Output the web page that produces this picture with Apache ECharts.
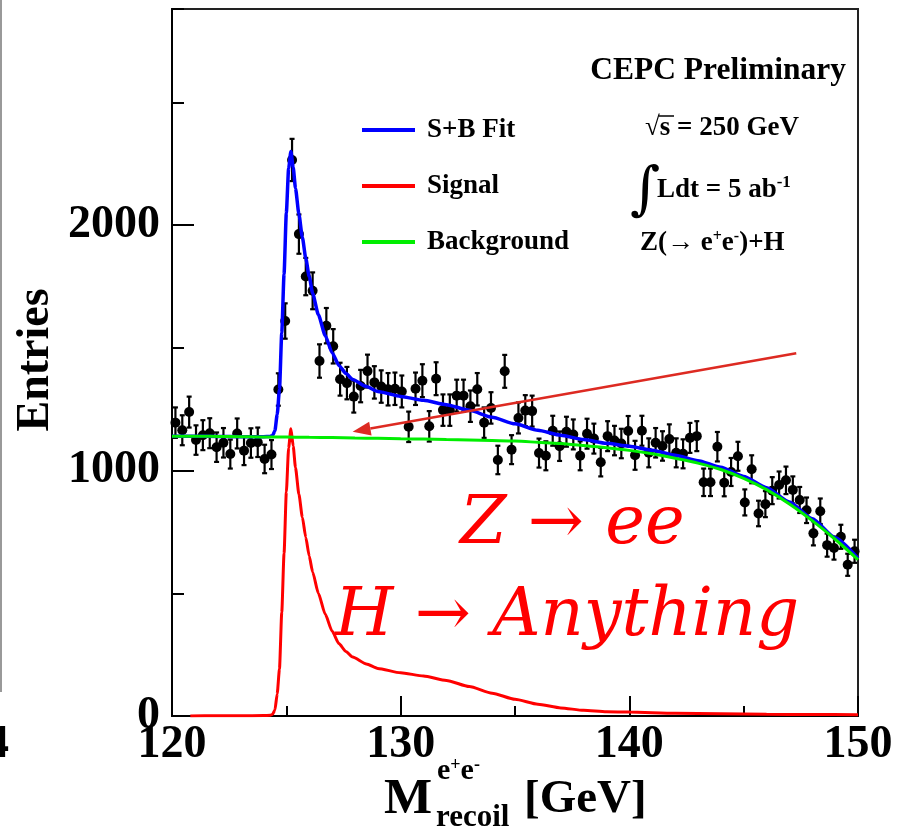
<!DOCTYPE html>
<html>
<head>
<meta charset="utf-8">
<script src="https://cdn.jsdelivr.net/npm/echarts@6/dist/echarts.min.js"></script>
<style>html,body{margin:0;padding:0;background:#fff}#c{width:909px;height:836px}</style>
</head>
<body>
<div id="c"></div>
<script>
// ---- data ----
const binStart = 120, binWidth = 0.3;
const entries = [1195,1164,1238,1124,1144,1152,1095,1113,1067,1151,1081,1112,1115,1047,1065,1330,1609,2265,1963,1790,
  1732,1446,1590,1506,1372,1356,1301,1344,1405,1359,1342,1331,1333,1322,1178,1333,1366,1180,1374,1246,
  1246,1305,1305,1262,1331,1195,1255,1043,1404,1085,1214,1244,1242,1071,1060,1162,1099,1158,1147,1060,
  1150,1130,1034,1140,1122,1110,1161,1062,1162,1072,1113,1100,1128,1072,1068,1133,1140,952,952,1097,
  950,994,1058,870,1005,825,863,918,941,960,921,880,838,744,834,696,684,730,616,671];
const errors = [62,61,63,60,61,61,60,60,59,61,59,60,60,58,59,66,72,86,80,76,
  75,68,72,70,67,66,65,66,67,66,66,66,66,65,62,66,67,62,67,64,
  64,65,65,64,66,62,64,58,67,59,63,63,63,59,59,61,60,61,61,59,
  61,61,58,61,60,60,61,59,61,59,60,60,60,59,59,61,61,56,56,60,
  55,57,59,53,57,52,53,55,55,56,55,53,52,49,52,47,47,49,45,47];
const massBins = entries.map((_, i) => +(binStart + binWidth * (i + 0.5)).toFixed(2));

const fitMass    = [120,121,122,123,124,124.3,124.4,124.5,124.6,124.7,124.8,124.9,125.0,125.1,125.2,125.3,125.4,125.55,125.7,125.85,126.0,126.15,126.4,126.7,127.0,127.3,127.6,127.9,128.5,129,130,131,132,133,134,135,136,137,138,139,140,141,142,143,144,145,146,147,148,149,150];
const fitEntries = [1140,1140,1139,1138,1138,1139,1143,1162,1228,1330,1560,1800,2050,2230,2300,2235,2150,2045,1950,1865,1790,1722,1635,1550,1480,1428,1396,1371,1342,1322,1302,1286,1268,1245,1217,1190,1164,1144,1126,1111,1099,1083,1062,1040,1013,976,930,872,803,726,642];

const sigMass    = [120.8,122,123,124,124.3,124.4,124.5,124.6,124.7,124.8,124.9,125.0,125.1,125.2,125.3,125.4,125.55,125.7,125.85,126.0,126.15,126.4,126.7,127.0,127.3,127.6,127.9,128.5,129,130,131,132,133,134,135,136,137,138,139,140,142,144,146,148,150];
const sigEntries = [0,1,1,2,3,7,24,90,192,422,662,912,1092,1170,1100,1012,903,810,728,652,587,500,415,346,295,263,240,212,194,176,163,145,120,93,68,48,33,23,17,16,11,9,7,6,5];

const bkgMass    = [120,121,122,123,124,125,126,127,128,129,130,131,132,133,134,135,136,137,138,139,140,141,142,143,144,145,146,147,148,149,150];
const bkgEntries = [1140,1140,1139,1138,1137,1137,1135,1134,1132,1131,1129,1128,1126,1124,1122,1120,1115,1110,1102,1093,1082,1068,1050,1030,1004,968,922,864,796,720,637];

const xTicks = [120,130,140,150];
const yTicks = [0,1000,2000];

const zip = (a, b) => a.map((v, i) => [v, b[i]]);
const SERIF = "'Liberation Serif','Times New Roman',serif";

const chart = echarts.init(document.getElementById('c'), null, {renderer: 'canvas'});
const option = {
  animation: false,
  backgroundColor: '#fff',
  grid: {left: 172, right: 51, top: 9, bottom: 120, show: true, borderColor: '#222', borderWidth: 2, backgroundColor: 'transparent'},
  legend: {
    data: ['S+B Fit', 'Signal', 'Background'],
    orient: 'vertical', left: 362, top: 116, padding: 0,
    itemWidth: 53, itemHeight: 4, icon: 'rect', itemGap: 28,
    textStyle: {fontFamily: SERIF, fontWeight: 'bold', fontSize: 27, color: '#000', lineHeight: 28, padding: [0, 0, 0, 7]}
  },
  xAxis: {
    type: 'value', min: xTicks[0], max: xTicks[xTicks.length - 1], interval: 10,
    axisLine: {lineStyle: {color: '#000', width: 2}},
    axisTick: {inside: true, length: 20, lineStyle: {color: '#000', width: 2}},
    minorTick: {show: true, splitNumber: 2, length: 10, lineStyle: {color: '#000', width: 2}},
    axisLabel: {fontFamily: SERIF, fontWeight: 'bold', fontSize: 46, color: '#000', margin: 6},
    splitLine: {show: false}
  },
  yAxis: [{
    type: 'value', min: yTicks[0], max: 2880, interval: 1000,
    axisLine: {show: true, lineStyle: {color: '#000', width: 2}},
    axisTick: {show: true, inside: true, length: 22, lineStyle: {color: '#000', width: 2}},
    axisLabel: {fontFamily: SERIF, fontWeight: 'bold', fontSize: 46, color: '#000', margin: 12, showMaxLabel: false,
      formatter: v => String(v)},
    splitLine: {show: false}
  }, {
    type: 'value', min: 0, max: 2880, interval: 500, position: 'left',
    axisLine: {show: false},
    axisTick: {show: true, inside: true, length: 12, lineStyle: {color: '#000', width: 2}},
    axisLabel: {show: false},
    splitLine: {show: false}
  }],
  series: [
    {name: 'S+B Fit', type: 'line', data: zip(fitMass, fitEntries), showSymbol: false, smooth: 0.2, smoothMonotone: 'x',
     lineStyle: {color: '#0000ff', width: 3.5}, itemStyle: {color: '#0000ff'}, z: 5},
    {name: 'Signal', type: 'line', data: zip(sigMass, sigEntries), showSymbol: false, smooth: 0.2, smoothMonotone: 'x',
     lineStyle: {color: '#ff0000', width: 3}, itemStyle: {color: '#ff0000'}, z: 5},
    {name: 'Background', type: 'line', data: zip(bkgMass, bkgEntries), showSymbol: false, smooth: 0.3,
     lineStyle: {color: '#00ee00', width: 3}, itemStyle: {color: '#00ee00'}, z: 6},
    {name: 'errs', type: 'custom', z: 2,
     data: massBins.map((m, i) => [m, entries[i] - errors[i], entries[i] + errors[i]]),
     renderItem: (params, api) => {
       const lo = api.coord([api.value(0), api.value(1)]);
       const hi = api.coord([api.value(0), api.value(2)]);
       const cw = 2.5;
       const st = {stroke: '#000', lineWidth: 2.2};
       return {type: 'group', children: [
         {type: 'line', shape: {x1: lo[0], y1: lo[1], x2: hi[0], y2: hi[1]}, style: st},
         {type: 'line', shape: {x1: lo[0] - cw, y1: lo[1], x2: lo[0] + cw, y2: lo[1]}, style: st},
         {type: 'line', shape: {x1: hi[0] - cw, y1: hi[1], x2: hi[0] + cw, y2: hi[1]}, style: st}
       ]};
     }},
    {name: 'Data', type: 'scatter', data: zip(massBins, entries), symbol: 'circle', symbolSize: 10,
     itemStyle: {color: '#000', opacity: 1}, z: 3}
  ]
};
chart.setOption(option);

// annotation arrow anchored in data coordinates
const pA = chart.convertToPixel({gridIndex: 0}, [147.3, 1478]);
const pB = chart.convertToPixel({gridIndex: 0}, [127.9, 1158]);
const ang = Math.atan2(pB[1] - pA[1], pB[0] - pA[0]);
const hl = 18, hw = 7;
const bx = pB[0] - hl * Math.cos(ang), by = pB[1] - hl * Math.sin(ang);
const nx = -Math.sin(ang), ny = Math.cos(ang);

const bold = (t, x, y, size, align, extra) => Object.assign({type: 'text', x: x, y: y, z: 20,
  style: {text: t, fontFamily: SERIF, fontWeight: 'bold', fontSize: size, fill: '#000', align: align || 'left', verticalAlign: 'middle'}}, extra || {});

chart.setOption({graphic: [
  {type: 'rect', shape: {x: 0, y: 0, width: 2, height: 692}, style: {fill: '#999'}, z: 20},
  bold('4', 9, 745, 46, 'right'),
  bold('Entries', 36, 360, 46, 'center', {rotation: Math.PI / 2}),
  bold('M', 384, 800, 51),
  {type: 'text', x: 437, y: 771, z: 20, style: {text: 'e{s|+}e{s|-}', fontFamily: SERIF, fontWeight: 'bold', fontSize: 30, fill: '#000', verticalAlign: 'middle',
    rich: {s: {fontFamily: SERIF, fontWeight: 'bold', fontSize: 18, verticalAlign: 'top', padding: [0, 0, 12, 0]}}}},
  bold('recoil', 436, 818, 31),
  bold('[GeV]', 524, 800, 47),
  bold('CEPC Preliminary', 846, 71, 31.5, 'right'),
  bold('\u221As = 250 GeV', 645, 128, 27),
  {type: 'line', shape: {x1: 659, y1: 116, x2: 674, y2: 116}, style: {stroke: '#000', lineWidth: 1.5}, z: 20},
  {type: 'text', x: 645, y: 193, z: 20, style: {text: '\u222B', fontFamily: "'DejaVu Serif',serif", fontSize: 58, fill: '#000', align: 'center', verticalAlign: 'middle'}},
  {type: 'text', x: 657, y: 190, z: 20, style: {text: 'Ldt = 5 ab{s|-1}', fontFamily: SERIF, fontWeight: 'bold', fontSize: 27, fill: '#000', verticalAlign: 'middle',
    rich: {s: {fontFamily: SERIF, fontWeight: 'bold', fontSize: 17, padding: [0, 0, 14, 0]}}}},
  {type: 'text', x: 640, y: 243, z: 20, style: {text: 'Z(\u2192 e{s|+}e{s|-})+H', fontFamily: SERIF, fontWeight: 'bold', fontSize: 27, fill: '#000', verticalAlign: 'middle',
    rich: {s: {fontFamily: SERIF, fontWeight: 'bold', fontSize: 16, padding: [0, 0, 12, 0]}}}},
  {type: 'line', shape: {x1: pA[0], y1: pA[1], x2: bx, y2: by}, style: {stroke: '#dd2a22', lineWidth: 2.5}, z: 21},
  {type: 'polygon', shape: {points: [[pB[0], pB[1]], [bx + nx * hw, by + ny * hw], [bx - nx * hw, by - ny * hw]]}, style: {fill: '#dd2a22'}, z: 21},
  {type: 'text', x: 460, y: 526, z: 21, style: {text: 'Z \u2192 ee', fontFamily: "'DejaVu Serif',serif", fontStyle: 'italic', fontSize: 67, fill: '#ff0000', verticalAlign: 'middle'}},
  {type: 'text', x: 335, y: 618, z: 21, style: {text: 'H \u2192 Anything', fontFamily: "'DejaVu Serif',serif", fontStyle: 'italic', fontSize: 67, fill: '#ff0000', verticalAlign: 'middle'}}
]});
</script>
</body>
</html>
